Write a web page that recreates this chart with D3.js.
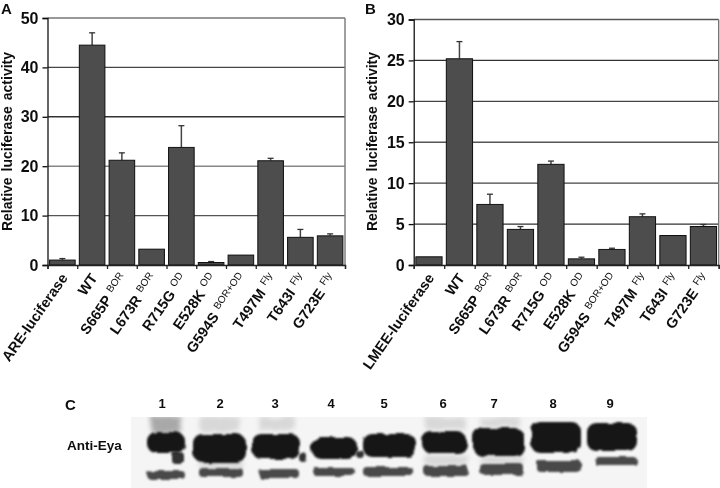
<!DOCTYPE html>
<html>
<head>
<meta charset="utf-8">
<script src="https://cdn.jsdelivr.net/npm/d3@7"></script>
<style>
  body { margin: 0; background: #fff; }
  text { font-family: "Liberation Sans", Arial, sans-serif; fill: #111; }
</style>
</head>
<body>
<svg id="fig" width="720" height="488"></svg>
<script>
// mutation names and their superscript tags
const namesA = ["ARE-luciferase", "WT", "S665P", "L673R", "R715G", "E528K", "G594S", "T497M", "T643I", "G723E"];
const namesB = ["LMEE-luciferase", "WT", "S665P", "L673R", "R715G", "E528K", "G594S", "T497M", "T643I", "G723E"];
const tags = ["", "", "BOR", "BOR", "OD", "OD", "BOR+OD", "Fly", "Fly", "Fly"];

// bar height and top of error bar (null where no whisker is visible)
const valuesA = [1, 44.5, 21.2, 3.2, 23.8, 0.5, 2, 21.1, 5.6, 5.9];
const errTopA = [1.3, 47, 22.7, null, 28.2, 0.7, null, 21.6, 7.2, 6.3];
const valuesB = [1, 25.2, 7.4, 4.35, 12.3, 0.75, 1.9, 5.9, 3.6, 4.7];
const errTopB = [null, 27.3, 8.65, 4.7, 12.7, 0.95, 2.05, 6.25, null, 4.95];

const ticksA = [0, 10, 20, 30, 40, 50];
const ticksB = [0, 5, 10, 15, 20, 25, 30];
const gridA = ["#555", "#888", "#333", "#444", "#777"];
const gridB = ["#333", "#444", "#555", "#444", "#333", "#555"];

const lanes = [1, 2, 3, 4, 5, 6, 7, 8, 9];
const laneLabelX = [162, 220, 275, 331, 384, 443, 494, 553, 610];
const upperBands = [[147, 185, 432, 453], [193, 246, 434, 462], [252, 300, 434, 459],
                    [312, 357, 437, 459], [363, 416, 434, 457], [422, 467, 432, 453],
                    [473, 524, 428, 456], [531, 581, 422, 453], [587, 637, 423, 451]];
const lowerBands = [[147, 185, 471, 479], [199, 243, 468, 477], [258, 299, 469, 478],
                    [313, 355, 468, 476], [363, 413, 467, 476], [424, 469, 466, 476],
                    [480, 524, 464, 475], [537, 581, 460, 472], [594, 637, 457, 465]];
const darkSmears = [[152, 182, 416, 433]];
const paleSmears = [[200, 240, 417, 432], [258, 296, 417, 430], [425, 465, 417, 430], [480, 520, 417, 427],
                    [199, 243, 460, 468], [424, 469, 455, 466], [480, 524, 456, 464]];
const spots = [[172, 184, 452, 464], [299, 307, 453, 462], [356, 364, 450, 458]];

const svg = d3.select("#fig");
const defs = svg.append("defs");

// the reference is a soft scan, everything gets a touch of blur
defs.append("filter").attr("id", "scan").attr("x", "-2%").attr("y", "-2%").attr("width", "104%").attr("height", "104%")
  .append("feGaussianBlur").attr("stdDeviation", 0.35);

const chart = svg.append("g").attr("filter", "url(#scan)");

function panel(opt) {
  const x = d3.scaleBand().domain(d3.range(opt.names.length))
              .range([opt.left, opt.right]).paddingInner(0.14).paddingOuter(0.07);
  const xTicks = d3.scaleLinear().domain([0, opt.names.length]).range([opt.left, opt.right]);
  const y = d3.scaleLinear().domain(opt.domain).range([opt.bottom, opt.top]);
  const g = chart.append("g");

  // gridlines go behind the bars
  g.selectAll("line.grid").data(opt.ticks.slice(1))
    .enter().append("line").attr("class", "grid")
    .attr("x1", opt.left).attr("x2", opt.right)
    .attr("y1", d => y(d)).attr("y2", d => y(d))
    .attr("stroke", (d, i) => opt.grid[i])
    .attr("stroke-width", 1.4);

  // right edge of plot
  g.append("line").attr("x1", opt.right).attr("x2", opt.right)
    .attr("y1", opt.top).attr("y2", opt.bottom)
    .attr("stroke", "#777").attr("stroke-width", 1.4);

  // error bars
  const idx = d3.range(opt.values.length).filter(i => opt.errTop[i] !== null);
  const cx = i => x(i) + x.bandwidth() / 2;
  g.selectAll("line.err").data(idx).enter().append("line").attr("class", "err")
    .attr("x1", cx).attr("x2", cx)
    .attr("y1", i => y(opt.values[i])).attr("y2", i => y(opt.errTop[i]))
    .attr("stroke", "#444").attr("stroke-width", 1.5);
  g.selectAll("line.cap").data(idx).enter().append("line").attr("class", "cap")
    .attr("x1", i => cx(i) - 3).attr("x2", i => cx(i) + 3)
    .attr("y1", i => y(opt.errTop[i])).attr("y2", i => y(opt.errTop[i]))
    .attr("stroke", "#333").attr("stroke-width", 1.3);

  // bars
  g.selectAll("rect").data(opt.values).enter().append("rect")
    .attr("x", (d, i) => x(i)).attr("width", x.bandwidth())
    .attr("y", d => y(d)).attr("height", d => opt.bottom - y(d))
    .attr("fill", "#4d4d4d").attr("stroke", "#111").attr("stroke-width", 1);

  // y axis
  const yg = g.append("g").attr("transform", `translate(${opt.left},0)`)
    .call(d3.axisLeft(y).tickValues(opt.ticks).tickSize(5).tickPadding(4));
  yg.selectAll("text").style("font-size", "16px").style("font-weight", "bold")
    .style("font-family", '"Liberation Sans", Arial, sans-serif');
  yg.selectAll("line, path").attr("stroke", "#111").attr("stroke-width", 1.3);

  // x axis: ticks sit between the bars, labels are rotated by hand
  const xg = g.append("g").attr("transform", `translate(0,${opt.bottom})`)
    .call(d3.axisBottom(xTicks).tickValues(d3.range(opt.names.length + 1)).tickSize(4).tickFormat(""));
  xg.selectAll("line, path").attr("stroke", "#222").attr("stroke-width", 1.3);

  const labels = g.selectAll("text.cat").data(opt.names).enter().append("text")
    .attr("class", "cat")
    .attr("text-anchor", "end")
    .attr("transform", (d, i) => `translate(${xTicks(i + 0.5) + 6},${opt.bottom + 13}) rotate(-55)`);
  labels.append("tspan").text(d => d)
    .style("font-size", "14.5px").style("font-weight", "bold");
  labels.append("tspan").text((d, i) => tags[i])
    .attr("dx", 5).attr("dy", -5)
    .style("font-size", "10px");

  // axis title
  g.append("text")
    .attr("transform", `translate(${opt.titleX},${(opt.bottom + 18) / 2}) rotate(-90)`)
    .attr("text-anchor", "middle")
    .style("font-size", "14px").style("font-weight", "bold")
    .style("word-spacing", "2px")
    .text("Relative luciferase activity");

  g.append("text").attr("x", opt.letterX).attr("y", 14)
    .style("font-size", "15px").style("font-weight", "bold").text(opt.letter);
}

panel({ names: namesA, values: valuesA, errTop: errTopA, ticks: ticksA, domain: [0, 50], grid: gridA,
        left: 47.5, right: 345, top: 18, bottom: 265, titleX: 12, letter: "A", letterX: 1 });
panel({ names: namesB, values: valuesB, errTop: errTopB, ticks: ticksB, domain: [0, 30], grid: gridB,
        left: 413.7, right: 718.7, top: 19.5, bottom: 265, titleX: 377, letter: "B", letterX: 365 });

// western blot
function roughFilter(id, blur, wobble) {
  const f = defs.append("filter").attr("id", id)
    .attr("x", "-20%").attr("y", "-60%").attr("width", "140%").attr("height", "220%");
  f.append("feTurbulence").attr("type", "fractalNoise").attr("baseFrequency", 0.07)
    .attr("numOctaves", 2).attr("seed", 4).attr("result", "n");
  f.append("feDisplacementMap").attr("in", "SourceGraphic").attr("in2", "n")
    .attr("scale", wobble).attr("result", "d");
  f.append("feGaussianBlur").attr("in", "d").attr("stdDeviation", blur);
}
roughFilter("soft", 1.3, 5);
roughFilter("softer", 2.6, 6);

defs.append("clipPath").attr("id", "blotClip").append("rect")
  .attr("x", 131).attr("y", 417).attr("width", 516).attr("height", 71);

const blot = svg.append("g").attr("clip-path", "url(#blotClip)");
blot.append("rect").attr("x", 131).attr("y", 417).attr("width", 516).attr("height", 71).attr("fill", "#f5f5f5");

function bands(data, fill, filter, rx) {
  blot.selectAll(null).data(data).enter().append("rect")
    .attr("x", d => d[0]).attr("width", d => d[1] - d[0])
    .attr("y", d => d[2]).attr("height", d => d[3] - d[2])
    .attr("rx", rx).attr("ry", rx)
    .attr("fill", fill).attr("filter", `url(#${filter})`);
}
bands(paleSmears, "#d8d8d8", "softer", 3);
bands(darkSmears, "#a8a8a8", "softer", 3);
bands(lowerBands, "#4a4a4a", "soft", 4);
bands(spots, "#333", "soft", 4);
bands(upperBands, "#191919", "soft", 9);

chart.selectAll("text.lane").data(lanes).enter().append("text").attr("class", "lane")
  .attr("x", (d, i) => laneLabelX[i]).attr("y", 408)
  .attr("text-anchor", "middle")
  .style("font-size", "13px").style("font-weight", "bold").text(d => d);

chart.append("text").attr("x", 65).attr("y", 410)
  .style("font-size", "15px").style("font-weight", "bold").text("C");
chart.append("text").attr("x", 67).attr("y", 450)
  .style("font-size", "13.5px").style("font-weight", "bold").text("Anti-Eya");
</script>
</body>
</html>
